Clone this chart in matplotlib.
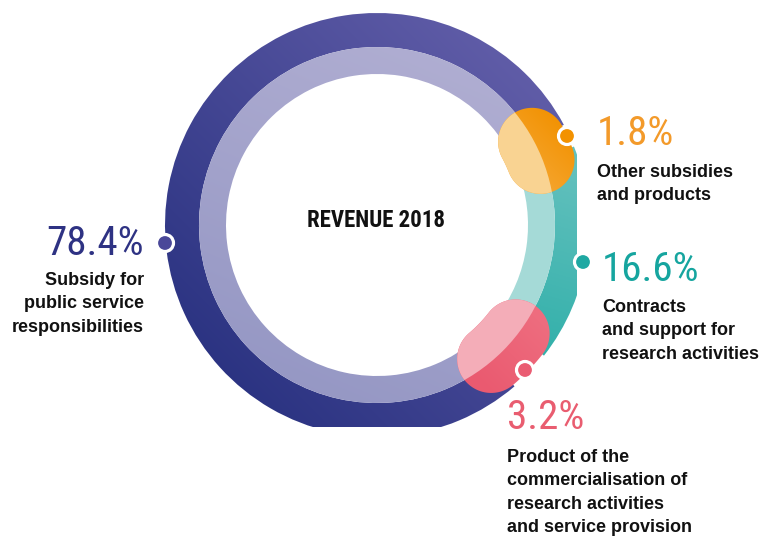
import numpy as np
import matplotlib
matplotlib.use("Agg")
import matplotlib.pyplot as plt
from matplotlib.patches import Wedge, Circle, Polygon, Rectangle
from matplotlib.colors import to_rgb

# Revenue breakdown (percent of total)
categories = ["Subsidy for public service responsibilities",
              "Other subsidies and products",
              "Contracts and support for research activities",
              "Product of the commercialisation of research activities and service provision"]
shares = [78.4, 1.8, 16.6, 3.2]
label_lines = [["Subsidy for", "public service", "responsibilities"],
               ["Other subsidies", "and products"],
               ["Contracts", "and support for", "research activities"],
               ["Product of the", "commercialisation of", "research activities", "and service provision"]]
title = "REVENUE 2018"

W, H = 766, 538
fig = plt.figure(figsize=(W / 100, H / 100), dpi=100)
ax = fig.add_axes([0, 0, 1, 1])
ax.set_xlim(0, W)
ax.set_ylim(0, H)
ax.axis("off")


def py(y):
    """Top-down pixel row to axis y."""
    return H - y


cx, cy = 377, py(225)
r_in, r_mid, r_out = 151, 178, 212
blob_rc, blob_hw = 176, 34

xs = np.arange(W) + 0.5
ys = np.arange(H) + 0.5
XX, YY = np.meshgrid(xs, ys)


def gradient_fill(clip, c0, c1, p0, p1, z):
    p0 = np.array(p0, float)
    d = np.array(p1, float) - p0
    t = ((XX - p0[0]) * d[0] + (YY - p0[1]) * d[1]) / (d @ d)
    t = np.clip(t, 0, 1)[..., None]
    img = np.array(to_rgb(c0)) * (1 - t) + np.array(to_rgb(c1)) * t
    im = ax.imshow(img, extent=[0, W, 0, H], origin="lower", zorder=z,
                   interpolation="bilinear", aspect="auto")
    clip.set_transform(ax.transData)
    im.set_clip_path(clip)
    return im


def capsule(a1, a2, rc, hw, n=80):
    t = np.radians(np.linspace(a1, a2, n))
    outer = np.c_[cx + (rc + hw) * np.cos(t), cy + (rc + hw) * np.sin(t)]
    p2 = np.array([cx + rc * np.cos(np.radians(a2)), cy + rc * np.sin(np.radians(a2))])
    ph = np.radians(np.linspace(a2, a2 + 180, n))
    cap2 = np.c_[p2[0] + hw * np.cos(ph), p2[1] + hw * np.sin(ph)]
    tr = t[::-1]
    inner = np.c_[cx + (rc - hw) * np.cos(tr), cy + (rc - hw) * np.sin(tr)]
    p1 = np.array([cx + rc * np.cos(np.radians(a1)), cy + rc * np.sin(np.radians(a1))])
    ph = np.radians(np.linspace(a1 + 180, a1 + 360, n))
    cap1 = np.c_[p1[0] + hw * np.cos(ph), p1[1] + hw * np.sin(ph)]
    return np.vstack([outer, cap2, inner, cap1])


# segment angles, laid out clockwise starting at the top-right
start = 28.2
spans = [v * 3.6 for v in shares]
a_orange = (start - spans[1], start)
a_teal = (a_orange[0] - spans[2], a_orange[0])
a_pink = (a_teal[0] - spans[3], a_teal[0])
a_blue = (start, start + spans[0])

# outer and inner bands of the main and contract segments
gradient_fill(Wedge((cx, cy), r_out, *a_blue, width=r_out - r_mid),
              "#27307f", "#625ea9", (200, py(400)), (540, py(60)), 1)
gradient_fill(Wedge((cx, cy), r_mid, *a_blue, width=r_mid - r_in),
              "#9597c4", "#b0aed2", (300, py(400)), (450, py(50)), 1)
gradient_fill(Wedge((cx, cy), r_out, *a_teal, width=r_out - r_mid),
              "#2fafa9", "#62c0bd", (520, py(360)), (575, py(170)), 1)
ax.add_patch(Wedge((cx, cy), r_mid, *a_teal, width=r_mid - r_in,
                   facecolor="#a5dad7", edgecolor="none", zorder=1))

# rounded markers for the two small segments
for (a1, a2), c0, c1, light in [(a_orange, "#f6ab3c", "#f29100", "#f9d392"),
                                (a_pink, "#ea5a70", "#ee6c7e", "#f4adb8")]:
    pts = capsule(a1, a2, blob_rc, blob_hw)
    mid = np.radians((a1 + a2) / 2)
    pc = np.array([cx + blob_rc * np.cos(mid), cy + blob_rc * np.sin(mid)])
    gradient_fill(Polygon(pts, closed=True), c0, c1,
                  pc + np.array([-30, -30]), pc + np.array([30, 30]), 2)
    lp = Polygon(pts, closed=True, facecolor=light, edgecolor="none", zorder=3)
    ax.add_patch(lp)
    lp.set_clip_path(Circle((cx, cy), r_mid, transform=ax.transData))

# trim the ring on the right and bottom edges
ax.add_patch(Rectangle((577, py(420)), 40, 330, facecolor="white",
                       edgecolor="none", zorder=4))
ax.add_patch(Rectangle((0, 0), W, py(427), facecolor="white",
                       edgecolor="none", zorder=4))

# leader dots
dot_colors = ["#4a4899", "#f39200", "#1ea8a2", "#ea5c72"]
dot_pos = [(165, 243), (567, 136), (583, 262), (525, 370)]
for (x, y), c in zip(dot_pos, dot_colors):
    ax.add_patch(Circle((x, py(y)), 8.5, facecolor=c, edgecolor="white",
                        linewidth=2.3, zorder=6))

# texts
pct_colors = ["#2e3283", "#f39a2a", "#16a59f", "#e95d70"]
pct_pos = [(144, 255, "right"), (597, 145, "left"), (602, 281, "left"), (507, 429, "left")]
desc_pos = [(144, 285, "right"), (597, 177, "left"), (602, 312, "left"), (507, 462, "left")]
line_step = 23.3

narrow = ["Roboto Condensed", "DejaVu Sans"]
sans = ["Liberation Sans", "DejaVu Sans"]

for v, c, (x, y, ha) in zip(shares, pct_colors, pct_pos):
    ax.text(x, py(y), f"{v}%", color=c, fontsize=29.5, family=narrow,
            fontweight="normal", ha=ha, va="baseline", zorder=7)

for lines, (x, y, ha) in zip(label_lines, desc_pos):
    for i, line in enumerate(lines):
        ax.text(x, py(y + i * line_step), line, color="#111111", fontsize=13,
                fontweight="bold", family=sans, ha=ha, va="baseline", zorder=7)

ax.text(376, py(227), title, color="#111111", fontsize=16.5, fontweight="bold",
        family=narrow, ha="center", va="baseline", zorder=7)

fig.savefig("out.png", dpi=100, facecolor="white")
